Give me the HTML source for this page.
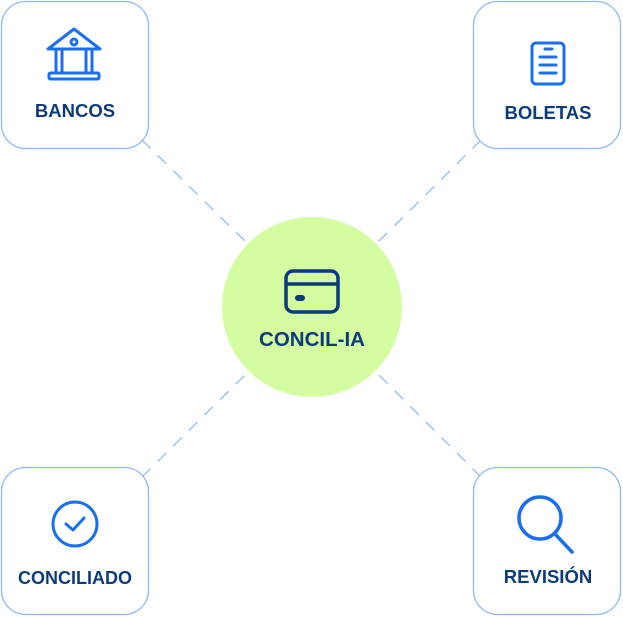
<!DOCTYPE html>
<html><head><meta charset="utf-8"><style>
html,body{margin:0;padding:0;background:#fff;width:623px;height:617px;overflow:hidden}
svg{display:block}
text{font-family:"Liberation Sans",sans-serif;font-weight:bold;fill:#0d3b7a;text-anchor:middle}
</style></head><body>
<svg width="623" height="617" viewBox="0 0 623 617">
<g stroke="#8fb4f0" stroke-width="1.2" stroke-dasharray="12,10" fill="none">
<line x1="142" y1="140" x2="248" y2="244"/>
<line x1="481" y1="140" x2="376" y2="244"/>
<line x1="142" y1="477" x2="248" y2="372"/>
<line x1="481" y1="477" x2="376" y2="372"/>
</g>
<g fill="#fff" stroke="#8fb8f5" stroke-width="1.3">
<rect x="1.5" y="1.5" width="147" height="147" rx="24"/>
<rect x="473.5" y="1.5" width="147" height="147" rx="24"/>
<rect x="1.5" y="467.5" width="147" height="147" rx="24"/>
<rect x="473.5" y="467.5" width="147" height="147" rx="24"/>
</g>
<circle cx="312" cy="307" r="90" fill="#d4fca0"/>
<g stroke="#1a6ff0" stroke-width="3" fill="none" stroke-linejoin="round">
<path d="M48 49 L74 29 L100 49 Z"/>
<circle cx="74" cy="42" r="3"/>
<line x1="56" y1="50" x2="56" y2="73"/>
<line x1="62" y1="50" x2="62" y2="73"/>
<line x1="86" y1="50" x2="86" y2="73"/>
<line x1="92" y1="50" x2="92" y2="73"/>
<rect x="49" y="73" width="50" height="6" rx="1.5"/>
</g>
<text x="75" y="117" font-size="18.5">BANCOS</text>
<g stroke="#1a6ff0" stroke-width="3" fill="none" stroke-linecap="round">
<rect x="532" y="43" width="32" height="41" rx="4"/>
<line x1="545" y1="49" x2="552" y2="49"/>
<line x1="540" y1="57" x2="556" y2="57"/>
<line x1="540" y1="65" x2="556" y2="65"/>
<line x1="540" y1="73" x2="556" y2="73"/>
</g>
<text x="548" y="119" font-size="18.5">BOLETAS</text>
<g stroke="#0d3b7a" stroke-width="3.5" fill="none">
<rect x="286" y="271" width="52" height="41" rx="7"/>
<line x1="286" y1="284" x2="338" y2="284"/>
</g>
<rect x="295" y="295" width="10" height="6" rx="3" fill="#0d3b7a"/>
<text x="312" y="346" font-size="20.5">CONCIL-IA</text>
<g stroke="#1a6ff0" stroke-width="3" fill="none" stroke-linecap="round" stroke-linejoin="round">
<circle cx="75" cy="524" r="22"/>
<path d="M66 524 L73 530 L84 518"/>
</g>
<text x="75" y="584" font-size="18">CONCILIADO</text>
<g stroke="#1a6ff0" stroke-width="3.5" fill="none" stroke-linecap="round">
<circle cx="540" cy="518" r="21"/>
<line x1="555" y1="534" x2="572" y2="552"/>
</g>
<text x="548" y="583" font-size="18.5">REVISIÓN</text>
</svg>
</body></html>
